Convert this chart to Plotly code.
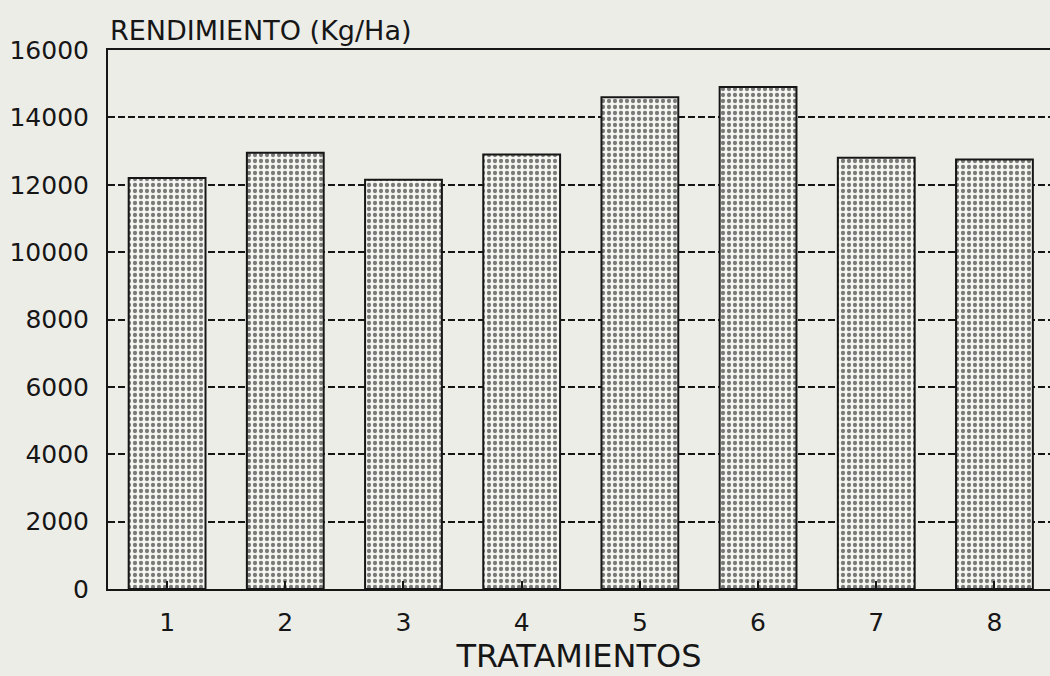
import plotly.graph_objects as go

categories = ["1", "2", "3", "4", "5", "6", "7", "8"]
rendimiento = [12200, 12950, 12150, 12900, 14600, 14900, 12800, 12750]
y_ticks = [0, 2000, 4000, 6000, 8000, 10000, 12000, 14000, 16000]

paper = "#edede8"
ink = "#161616"
font_family = "DejaVu Sans, Liberation Sans, Arial, sans-serif"

x_pos = [int(c) for c in categories]

fig = go.Figure()
fig.add_trace(go.Bar(
    x=x_pos,
    y=rendimiento,
    width=0.65,
    marker=dict(
        color="#f5f5f1",
        line=dict(color=ink, width=2),
        pattern=dict(shape=".", fgcolor="#000000", bgcolor="#f5f5f1",
                     size=6, solidity=0.4, fillmode="overlay"),
    ),
    showlegend=False,
))

fig.update_layout(
    width=1050, height=676,
    margin=dict(l=108, r=0, t=50, b=87),
    paper_bgcolor=paper,
    plot_bgcolor=paper,
    font=dict(family=font_family, color=ink, size=24),
    bargap=0.35,
    xaxis=dict(
        range=[0.5, 8.47],
        tickmode="array", tickvals=x_pos, ticktext=categories,
        ticks="inside", ticklen=8, tickwidth=1.5, tickcolor=ink,
        showline=True, linecolor=ink, linewidth=2, mirror=True,
        showgrid=False, zeroline=False,
        ticklabelstandoff=10,
        tickfont=dict(size=25),
        title=dict(text="TRATAMIENTOS", font=dict(size=32), standoff=4),
    ),
    yaxis=dict(
        range=[0, 16000],
        tickmode="array", tickvals=y_ticks,
        ticktext=[str(v) for v in y_ticks],
        ticks="", showline=True, linecolor=ink, linewidth=2,
        showgrid=True, gridcolor=ink, gridwidth=1.5, griddash="7px,3px",
        zeroline=False,
        ticklabelstandoff=12,
        tickfont=dict(size=25),
    ),
    annotations=[dict(
        text="RENDIMIENTO (Kg/Ha)", xref="paper", yref="paper",
        x=0, y=1, xanchor="left", yanchor="bottom", yshift=2,
        showarrow=False, font=dict(size=27, color=ink),
    )],
)

fig.write_html(
    "out.html",
    config={"displayModeBar": False},
    post_script="document.body.style.margin='0';document.body.style.overflow='hidden';",
)
